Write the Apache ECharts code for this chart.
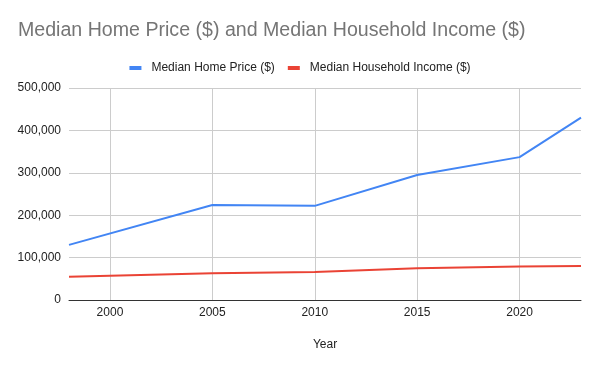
<!DOCTYPE html>
<html><head><meta charset="utf-8">
<script src="https://cdn.jsdelivr.net/npm/echarts@6/dist/echarts.min.js"></script>
<style>html,body{margin:0;padding:0;background:#fff}#c{width:600px;height:371px}</style>
</head><body><div id="c"></div>
<script>
const years = [1998, 2005, 2010, 2015, 2020, 2023];
const homePrice = [130000, 224000, 222000, 295000, 337000, 430000];
const income = [55000, 63000, 66000, 75000, 79000, 80000];
const xTicks = [2000, 2005, 2010, 2015, 2020];
const seriesNames = ['Median Home Price ($)', 'Median Household Income ($)'];

const chart = echarts.init(document.getElementById('c'));
const font = '"Liberation Sans", Arial, sans-serif';
chart.setOption({
  animation: false,
  textStyle: { fontFamily: font },
  title: {
    text: 'Median Home Price ($) and Median Household Income ($)',
    left: 13, top: 16,
    textStyle: { fontFamily: font, fontSize: 19.6, fontWeight: 'normal', color: '#757575' }
  },
  legend: {
    left: 'center', top: 57,
    icon: 'rect', itemWidth: 12, itemHeight: 4, itemGap: 13,
    textStyle: { fontFamily: font, fontSize: 12, color: '#222', padding: [0, 0, 0, 5] },
    data: seriesNames
  },
  grid: { left: 69, right: 19, top: 88, bottom: 71, containLabel: false },
  xAxis: {
    type: 'value', min: 1998, max: 2023,
    name: 'Year', nameLocation: 'middle', nameGap: 39,
    nameTextStyle: { fontFamily: font, fontSize: 12, color: '#222' },
    axisLine: { show: true, lineStyle: { color: '#333', width: 1 } },
    axisTick: { show: false, customValues: xTicks },
    axisLabel: { customValues: xTicks, color: '#222', fontSize: 12, margin: 7, fontFamily: font,
      formatter: v => String(v) },
    splitLine: { show: true, lineStyle: { color: '#cccccc', width: 1 } }
  },
  yAxis: {
    type: 'value', min: 0, max: 500000, interval: 100000,
    axisLine: { show: false }, axisTick: { show: false },
    axisLabel: { color: '#222', fontSize: 12, margin: 8, fontFamily: font,
      formatter: v => v.toLocaleString('en-US') },
    splitLine: { lineStyle: { color: '#cccccc', width: 1 } }
  },
  series: [
    { name: seriesNames[0], type: 'line', showSymbol: false, symbol: 'none',
      data: years.map((y, i) => [y, homePrice[i]]),
      lineStyle: { color: '#4285f4', width: 2 }, itemStyle: { color: '#4285f4' } },
    { name: seriesNames[1], type: 'line', showSymbol: false, symbol: 'none',
      data: years.map((y, i) => [y, income[i]]),
      lineStyle: { color: '#ea4335', width: 2 }, itemStyle: { color: '#ea4335' } }
  ]
});
</script></body></html>
